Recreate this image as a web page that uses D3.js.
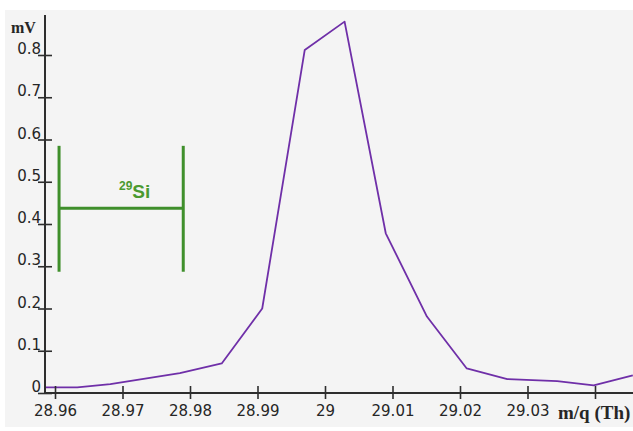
<!DOCTYPE html>
<html>
<head>
<meta charset="utf-8">
<script src="https://cdn.jsdelivr.net/npm/d3@7"></script>
<style>
  html, body { margin: 0; padding: 0; background: #ffffff; }
  svg { display: block; }
</style>
</head>
<body>
<svg id="chart" width="633" height="431"></svg>
<script>
// ---- data ----
const massValues = [28.9585, 28.9633, 28.9682, 28.9785, 28.9847, 28.9907, 28.9970, 29.0029, 29.0090, 29.0151, 29.0210, 29.0270, 29.0344, 29.0398, 29.0456];
const signalValues = [0.0135, 0.0135, 0.021, 0.047, 0.070, 0.200, 0.812, 0.879, 0.378, 0.181, 0.058, 0.033, 0.028, 0.018, 0.042];
const xTickValues = [28.96, 28.97, 28.98, 28.99, 29.00, 29.01, 29.02, 29.03, 29.04];
const xTickLabels = ["28.96", "28.97", "28.98", "28.99", "29", "29.01", "29.02", "29.03", ""];
const yTickValues = [0, 0.1, 0.2, 0.3, 0.4, 0.5, 0.6, 0.7, 0.8];
const yTickLabels = ["0", "0.1", "0.2", "0.3", "0.4", "0.5", "0.6", "0.7", "0.8"];
const markerMass = [28.9606, 28.9790];   // left / right bars of the 29Si marker
const markerSignal = [0.287, 0.585, 0.437]; // bar bottom, bar top, connector level
const markerIsotope = ["29", "Si"];
const xAxisTitle = "m/q (Th)";
const yAxisTitle = "mV";

// ---- layout ----
const svg = d3.select("#chart");
const W = 633, H = 431;
const plot = { left: 45, right: 633, top: 15, bottom: 393 };

svg.append("rect").attr("x", 5).attr("y", 10).attr("width", W - 5).attr("height", 417)
  .attr("fill", "#f4f4f4");

const x = d3.scaleLinear().domain([28.96, 29.04]).range([55, 595]);
const y = d3.scaleLinear().domain([0, 0.8]).range([393, 55]);

const numFont = "'DejaVu Sans', sans-serif";
const serifFont = "'Liberation Serif', 'Times New Roman', serif";
const textColor = "#262626";
const axisColor = "#2e2e2e";

// clip for the line
svg.append("clipPath").attr("id", "plotclip").append("rect")
  .attr("x", plot.left).attr("y", 0).attr("width", W - plot.left).attr("height", plot.bottom);

// ---- series line ----
const pts = massValues.map((m, i) => [m, signalValues[i]]);
svg.append("path")
  .datum(pts)
  .attr("clip-path", "url(#plotclip)")
  .attr("fill", "none")
  .attr("stroke", "#6f2fa8")
  .attr("stroke-width", 1.8)
  .attr("stroke-linejoin", "round")
  .attr("d", d3.line().x(d => x(d[0])).y(d => y(d[1])));

// ---- 29Si marker ----
const green = "#3f8f2b";
const mk = svg.append("g").attr("stroke", green).attr("stroke-width", 3);
markerMass.forEach(m => {
  mk.append("line").attr("x1", x(m)).attr("x2", x(m))
    .attr("y1", y(markerSignal[0])).attr("y2", y(markerSignal[1]));
});
mk.append("line").attr("x1", x(markerMass[0])).attr("x2", x(markerMass[1]))
  .attr("y1", y(markerSignal[2])).attr("y2", y(markerSignal[2]));

const mt = svg.append("text")
  .attr("x", 119).attr("y", 198)
  .attr("fill", "#4a9a30")
  .attr("font-family", "'Liberation Sans', Arial, sans-serif")
  .attr("font-weight", "bold");
mt.append("tspan").attr("font-size", 12).attr("dy", -8).text(markerIsotope[0]);
mt.append("tspan").attr("font-size", 19).attr("dy", 8).text(markerIsotope[1]);

// ---- x axis ----
const xAxis = d3.axisBottom(x).tickValues(xTickValues)
  .tickFormat((d, i) => xTickLabels[i]).tickSize(0).tickPadding(0);
const gx = svg.append("g").attr("transform", `translate(0,${plot.bottom})`).call(xAxis);
gx.select(".domain").remove();
gx.selectAll(".tick line").attr("y1", -7).attr("y2", 6)
  .attr("stroke", axisColor).attr("stroke-width", 1.6);
gx.selectAll(".tick text").attr("y", 23).attr("dy", 0)
  .attr("font-family", numFont).attr("font-size", 15).attr("fill", textColor);
svg.append("line").attr("x1", plot.left).attr("x2", plot.right)
  .attr("y1", plot.bottom).attr("y2", plot.bottom)
  .attr("stroke", axisColor).attr("stroke-width", 2);

// ---- y axis ----
const yAxis = d3.axisLeft(y).tickValues(yTickValues)
  .tickFormat((d, i) => yTickLabels[i]).tickSize(0).tickPadding(0);
const gy = svg.append("g").attr("transform", `translate(${plot.left},0)`).call(yAxis);
gy.select(".domain").remove();
gy.selectAll(".tick line").attr("x1", -7).attr("x2", 7)
  .attr("stroke", axisColor).attr("stroke-width", 1.6);
gy.selectAll(".tick text").attr("x", -4).attr("dy", -1.5)
  .attr("text-anchor", "end")
  .attr("font-family", numFont).attr("font-size", 15).attr("fill", textColor);
svg.append("line").attr("x1", plot.left).attr("x2", plot.left)
  .attr("y1", plot.top).attr("y2", plot.bottom)
  .attr("stroke", axisColor).attr("stroke-width", 2);

// ---- axis titles ----
svg.append("text").attr("x", 11).attr("y", 33)
  .attr("font-family", serifFont).attr("font-weight", "bold").attr("font-size", 16)
  .attr("fill", textColor).text(yAxisTitle);
svg.append("text").attr("x", 558).attr("y", 419)
  .attr("font-family", serifFont).attr("font-weight", "bold").attr("font-size", 19)
  .attr("fill", textColor).text(xAxisTitle);
</script>
</body>
</html>
